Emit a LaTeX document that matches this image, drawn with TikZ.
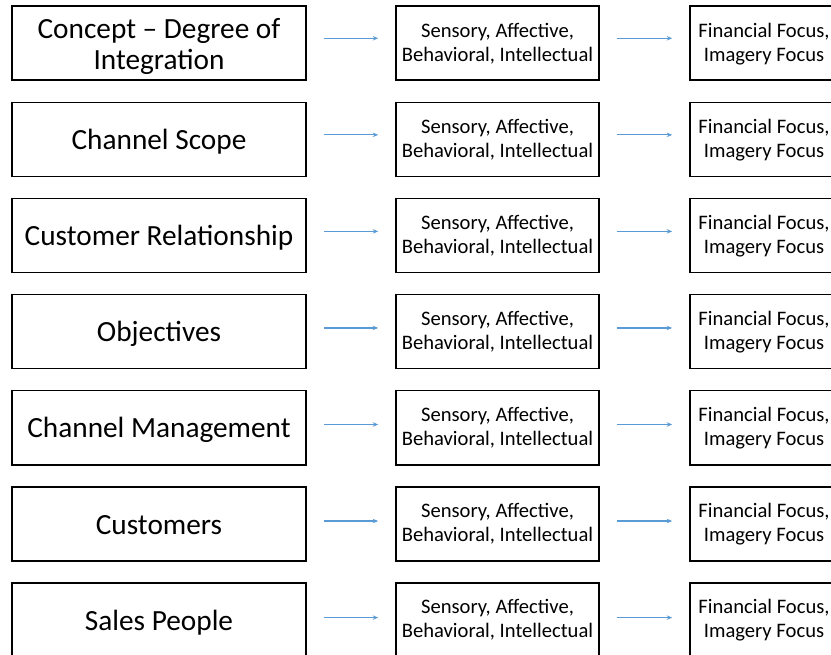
\documentclass[tikz,border=0pt]{standalone}
\usepackage{fontspec}
\setmainfont{Carlito}
\usetikzlibrary{arrows.meta}
\definecolor{arrowblue}{RGB}{91,155,213}
\newcommand\LineL[1]{\rule[-3.5pt]{0pt}{27.5pt}\smash{#1}}
\newcommand\LineM[1]{\rule[-3pt]{0pt}{18pt}\smash{#1}}
\tikzset{
  box/.style={draw=black, line width=1.6pt, fill=white, inner sep=0pt, align=center, minimum height=74pt},
  bigbox/.style={box, minimum width=294pt, font=\fontsize{29.3}{31}\selectfont},
  midbox/.style={box, minimum width=203pt, font=\fontsize{20.6}{24}\selectfont},
  rightbox/.style={box, minimum width=148pt, font=\fontsize{20.6}{24}\selectfont},
  conn/.style={draw=arrowblue, line width=1.3pt, -{Stealth[length=5.5pt,width=4.5pt]}, shorten <=17pt, shorten >=17pt}
}
\begin{document}
\begin{tikzpicture}[x=1pt,y=-1pt]
\useasboundingbox (0,0) rectangle (831,655);
\clip (0,0) rectangle (831,655);
\foreach \i/\txt in {0/{\LineL{Concept – Degree of}\\\LineL{Integration}},1/{\LineL{Channel Scope}},2/{\LineL{Customer Relationship}},3/{\LineL{Objectives}},4/{\LineL{Channel Management}},5/{\LineL{Customers}},6/{\LineL{Sales People}}}{
  \pgfmathsetmacro{\yc}{43.3+96.1*\i}
  \pgfmathsetmacro{\ys}{5-0.45*\i}
  \node[bigbox] (L\i) at (159,\yc) {\txt};
  \node[midbox] (M\i) at (497.5,\yc) {\LineM{Sensory, Affective,}\\\LineM{Behavioral, Intellectual}};
  \node[rightbox] (R\i) at (764,\yc) {\LineM{Financial Focus,}\\\LineM{Imagery Focus}};
  \draw[conn] ([yshift=\ys pt]L\i.east) -- ([yshift=\ys pt]M\i.west);
  \draw[conn] ([yshift=\ys pt]M\i.east) -- ([yshift=\ys pt]R\i.west);
}
\end{tikzpicture}
\end{document}
